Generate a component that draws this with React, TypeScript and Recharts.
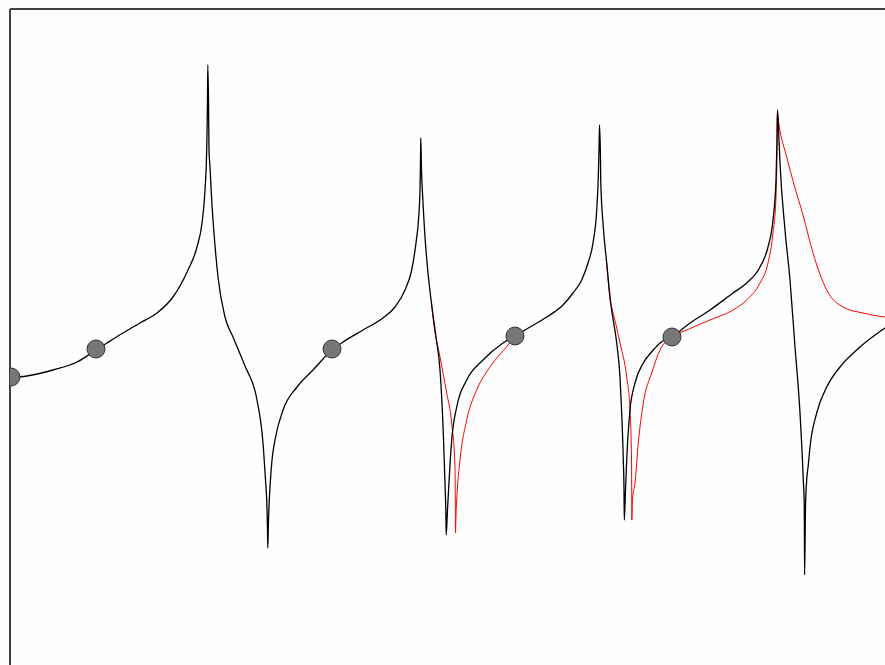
import React from "react";
import { ComposedChart, Line, Scatter, XAxis, YAxis, ReferenceLine } from "recharts";

// x: sample position, y: response amplitude (arbitrary units)
const blackX = [0, 17, 43, 67, 86, 97, 113, 130, 147, 163, 178, 187, 192, 195, 196.7, 197.5, 197.8, 198.5, 199, 200, 201.7, 204, 208, 215, 223, 235, 247, 253, 255.5, 256.7, 257.5, 257.8, 258.5, 260, 262, 265, 273, 287, 303, 322, 333, 353, 373, 385, 395, 401.7, 406, 408.7, 410, 410.5, 410.8, 411.5, 412.7, 415, 418, 421.7, 426, 430, 433.3, 435, 435.8, 436.2, 437.5, 438.3, 441.7, 446.7, 456.7, 473, 493, 505, 520, 536.7, 553, 563, 571.7, 578, 583, 586.7, 588.3, 589, 589.5, 590.5, 590.7, 593.3, 596.7, 600.7, 606.7, 610, 611.7, 613.3, 614, 614.3, 615.5, 616.7, 620, 625, 633.3, 643.3, 650, 662, 680, 700, 723, 736.7, 750, 758, 763, 766, 767, 767.5, 769, 770, 775, 780, 785, 790, 793.3, 794.3, 794.6, 795.5, 796.7, 798.3, 800, 806.7, 816.7, 830, 850, 875, 890];
const blackY = [322.5, 324, 330, 338, 350, 357, 367, 377, 387, 403, 430, 453, 477, 510, 550, 600, 635, 600, 550, 533, 500, 467, 423, 383, 363, 334, 300, 257, 220, 200, 170, 152, 180, 213, 240, 260, 290, 313, 330, 350, 358, 370, 382, 393, 410, 430, 457, 483, 510, 540, 562, 530, 503, 463, 427, 395, 363, 330, 267, 217, 190, 165, 190, 205, 260, 293, 320, 340, 357, 364, 373, 383, 395, 407, 420, 437, 457, 490, 523, 550, 575, 540, 520, 473, 437, 397, 357, 323, 287, 240, 210, 180, 210, 240, 290, 317, 337, 350, 357, 363, 377, 390, 407, 417, 433, 453, 480, 520, 560, 590, 560, 537, 470, 420, 353, 287, 220, 193, 125, 193, 220, 235, 253, 287, 313, 333, 353, 372, 382];

// red trace: where it runs under the black one (between the 4th marker and the 4th peak) it is left out
const redX = [421.7, 423.3, 430, 436.7, 441.7, 445, 445.3, 445.5, 446, 446.7, 450, 456.7, 466.7, 480, 498, 505, 550, 596.7, 600.7, 601.7, 610, 616.7, 620, 621.5, 621.7, 621.8, 622.5, 625, 628.3, 633.3, 641.7, 650, 662, 676.7, 700, 723, 736.7, 750, 758, 763, 766, 767, 767.3, 769, 776.7, 785, 793, 803, 816.7, 833, 853, 875, 890];
const redY: (number | null)[] = [395, 380, 343, 307, 277, 233, 200, 167, 185, 200, 240, 280, 310, 333, 355, 364, null, 437, 397, 393, 357, 323, 290, 240, 210, 180, 200, 217, 257, 297, 327, 350, 363, 370, 380, 390, 400, 417, 437, 467, 503, 550, 587, 575, 543, 512, 485, 447, 410, 393, 387, 383, 382];

const markerX = [1, 86, 322, 505, 662];
const markerY = [323, 351, 351, 364, 363];

const black = blackX.map((x, i) => ({ x, y: blackY[i] }));
const red = redX.map((x, i) => ({ x, y: redY[i] }));
const markers = markerX.map((x, i) => ({ x, y: markerY[i] }));

const Dot = (props: any) => {
  const { cx, cy } = props;
  if (cx == null || cy == null) return null;
  return <circle cx={cx} cy={cy} r={9} fill="#777777" stroke="#333333" strokeWidth={1} />;
};

export default function App() {
  return (
    <div
      style={{
        position: "fixed",
        left: 0,
        top: 0,
        width: 885,
        height: 665,
        overflow: "hidden",
        background: "#fefefe",
      }}
    >
      <ComposedChart
        width={900}
        height={700}
        margin={{ top: 9, right: 0, bottom: 0, left: 10 }}
      >
        <XAxis type="number" dataKey="x" domain={[0, 890]} hide allowDataOverflow />
        <YAxis type="number" dataKey="y" domain={[0, 691]} hide allowDataOverflow />
        <ReferenceLine x={0} stroke="#404040" strokeWidth={2} />
        <ReferenceLine y={691} stroke="#404040" strokeWidth={2} />
        <Line
          data={red}
          dataKey="y"
          type="monotoneX"
          stroke="#ff0000"
          strokeWidth={1}
          dot={false}
          activeDot={false}
          connectNulls={false}
          isAnimationActive={false}
        />
        <Line
          data={black}
          dataKey="y"
          type="monotoneX"
          stroke="#000000"
          strokeWidth={1.3}
          dot={false}
          activeDot={false}
          isAnimationActive={false}
        />
        <Scatter data={markers} dataKey="y" shape={Dot} isAnimationActive={false} />
      </ComposedChart>
    </div>
  );
}
